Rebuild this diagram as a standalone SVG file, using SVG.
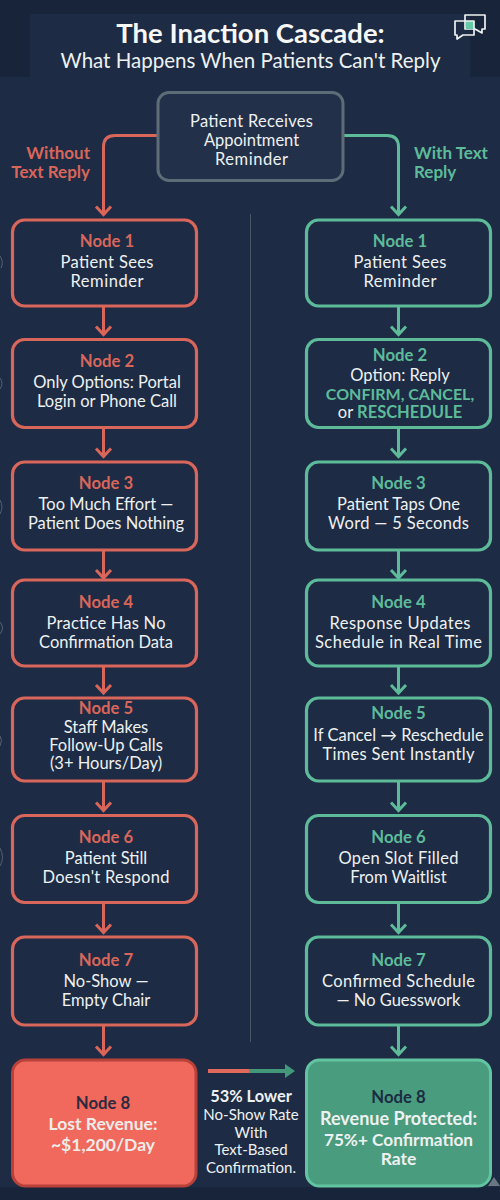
<svg xmlns="http://www.w3.org/2000/svg" width="500" height="1200" viewBox="0 0 500 1200">
<style>
text{font-family:"Lato","Open Sans","Liberation Sans",sans-serif;text-anchor:middle;fill:#eef1f1}
.box{fill:#1d2b44;stroke-width:3.200}
.r{stroke:#d9665a}.g{stroke:#5dbb9a}
.lr{fill:#d9665a;font-weight:700;font-size:16.700px}
.lg{fill:#5dbb9a;font-weight:700;font-size:16.700px}
.t{font-size:16.500px}
.c{fill:none;stroke-width:3}
.art{fill:none;stroke:#56616f;stroke-width:1}
</style>
<defs>
<marker id="hr" markerUnits="userSpaceOnUse" markerWidth="20" markerHeight="20" refX="10" refY="10" orient="auto"><path d="M2,2.500 L10,10 L2,17.500" fill="none" stroke="#d9665a" stroke-width="3"/></marker>
<marker id="hg" markerUnits="userSpaceOnUse" markerWidth="20" markerHeight="20" refX="10" refY="10" orient="auto"><path d="M2,2.500 L10,10 L2,17.500" fill="none" stroke="#5dbb9a" stroke-width="3"/></marker>
</defs>
<rect width="500" height="1200" fill="#1d2b44"/>
<g id="background-bands" fill="#18243a">
<rect width="500" height="14"/><rect y="14" width="30" height="63"/><rect x="470" y="14" width="30" height="63"/><rect y="1187" width="500" height="13"/>
</g>
<g id="edge-marks">
<path class="art" d="M0,256 Q4,262 1,268M0,378 Q4,383 0,389M0,500 Q4,507 0,514M0,622 Q5,628 0,634M0,736 Q3,740 0,746M0,848 Q5,858 0,866"/>
<path d="M488,1186 L494,1177 L500,1186Z" fill="#6d7783"/>
</g>
<g id="header">
<text x="250.500" y="43" font-size="27.500" font-weight="700" style="fill:#f7f8f8">The Inaction Cascade:</text>
<text x="250.500" y="68" font-size="20.500">What Happens When Patients Can't Reply</text>
</g>
<g id="icon" fill="none" stroke="#eef1f1" stroke-width="1.700" stroke-linejoin="round">
<path d="M465,15H485V29H482V33L475,29H465Z"/>
<rect x="466" y="21" width="8" height="8" fill="#66c9a8" stroke="none"/>
<path d="M455,21H474V35H463L457,39V35H455Z"/>
</g>
<g id="divider"><line x1="250.500" y1="214" x2="250.500" y2="1042" stroke="#4b5767" stroke-width="1"/></g>
<g id="connectors">
<path class="c r" marker-end="url(#hr)" d="M157,135.500H115Q103.500,135.500 103.500,147V214.500"/>
<path class="c g" marker-end="url(#hg)" d="M343,135.500H387Q398.500,135.500 398.500,147V214.500"/>
<path class="c r" marker-end="url(#hr)" d="M103.500,307V334.500"/>
<path class="c r" marker-end="url(#hr)" d="M103.500,428V456.500"/>
<path class="c r" marker-end="url(#hr)" d="M103.500,551V578"/>
<path class="c r" marker-end="url(#hr)" d="M103.500,667V693"/>
<path class="c r" marker-end="url(#hr)" d="M103.500,782V810.500"/>
<path class="c r" marker-end="url(#hr)" d="M103.500,904V932.500"/>
<path class="c r" marker-end="url(#hr)" d="M103.500,1026V1054.500"/>
<path class="c g" marker-end="url(#hg)" d="M398.500,307V334.500"/>
<path class="c g" marker-end="url(#hg)" d="M398.500,428V456.500"/>
<path class="c g" marker-end="url(#hg)" d="M398.500,551V578"/>
<path class="c g" marker-end="url(#hg)" d="M398.500,667V693"/>
<path class="c g" marker-end="url(#hg)" d="M398.500,782V810.500"/>
<path class="c g" marker-end="url(#hg)" d="M398.500,904V932.500"/>
<path class="c g" marker-end="url(#hg)" d="M398.500,1026V1054.500"/>
<line x1="208" y1="1071" x2="249" y2="1071" stroke="#e0695c" stroke-width="4"/>
<line x1="249" y1="1071" x2="286" y2="1071" stroke="#44987a" stroke-width="4"/>
<path d="M285,1064L295,1071L285,1078Z" fill="#44987a"/>
</g>
<g id="branch-labels" style="font-size:17px;font-weight:700">
<text x="90" y="159" style="text-anchor:end;fill:#d9665a">Without</text>
<text x="90" y="178" style="text-anchor:end;fill:#d9665a">Text Reply</text>
<text x="414" y="159" style="text-anchor:start;fill:#5dbb9a">With Text</text>
<text x="414" y="178" style="text-anchor:start;fill:#5dbb9a">Reply</text>
</g>
<g id="start"><rect x="158" y="92.500" width="185" height="88" rx="11" fill="#22304a" stroke="#5e6c77" stroke-width="3"/>
<text class="t" x="251.500" y="127" textLength="123">Patient Receives</text><text class="t" x="251.500" y="146">Appointment</text><text class="t" x="251.500" y="165" textLength="73">Reminder</text></g>

<g id="left-1"><rect class="box r" x="12.500" y="220" width="184" height="86" rx="12"/><text class="lr" x="107" y="247">Node 1</text><text class="t" x="107" y="268" textLength="93">Patient Sees</text><text class="t" x="107" y="287" textLength="73">Reminder</text></g>
<g id="left-2"><rect class="box r" x="12.500" y="339.500" width="184" height="88" rx="12"/><text class="lr" x="107" y="367">Node 2</text><text class="t" x="107" y="388">Only Options: Portal</text><text class="t" x="107" y="407">Login or Phone Call</text></g>
<g id="left-3"><rect class="box r" x="12.500" y="462" width="184" height="88" rx="12"/><text class="lr" x="106" y="489">Node 3</text><text class="t" x="106" y="510">Too Much Effort —</text><text class="t" x="106" y="529">Patient Does Nothing</text></g>
<g id="left-4"><rect class="box r" x="12.500" y="580" width="184" height="86" rx="12"/><text class="lr" x="106" y="608">Node 4</text><text class="t" x="106" y="629" textLength="119">Practice Has No</text><text class="t" x="106" y="648">Confirmation Data</text></g>
<g id="left-5"><rect class="box r" x="12.500" y="698" width="184" height="83" rx="12"/><text class="lr" x="106" y="714">Node 5</text><text class="t" x="106" y="732.500">Staff Makes</text><text class="t" x="106" y="750.500">Follow-Up Calls</text><text class="t" x="106" y="768.500">(3+ Hours/Day)</text></g>
<g id="left-6"><rect class="box r" x="12.500" y="815.500" width="184" height="87" rx="12"/><text class="lr" x="106" y="843">Node 6</text><text class="t" x="106" y="864">Patient Still</text><text class="t" x="106" y="883" textLength="127">Doesn't Respond</text></g>
<g id="left-7"><rect class="box r" x="12.500" y="937" width="184" height="88" rx="12"/><text class="lr" x="106" y="966">Node 7</text><text class="t" x="106" y="987">No-Show —</text><text class="t" x="106" y="1006">Empty Chair</text></g>
<g id="left-8"><rect x="12.500" y="1060" width="183.500" height="126" rx="13" fill="#f0695c" stroke="#b8423a" stroke-width="3"/><text x="103" y="1109" font-size="16.700" font-weight="700" style="fill:#2c2a40">Node 8</text><text x="103" y="1130" font-size="17.500" font-weight="700" style="fill:#f1ecea">Lost Revenue:</text><text x="103" y="1151" font-size="17.500" font-weight="700" style="fill:#f1ecea">~$1,200/Day</text></g>

<g id="right-1"><rect class="box g" x="306.500" y="220" width="184" height="86" rx="12"/><text class="lg" x="400" y="247">Node 1</text><text class="t" x="400" y="268" textLength="93">Patient Sees</text><text class="t" x="400" y="287" textLength="73">Reminder</text></g>
<g id="right-2"><rect class="box g" x="306.500" y="339.500" width="184" height="88" rx="12"/><text class="lg" x="400" y="360.500">Node 2</text><text class="t" x="400" y="381">Option: Reply</text><text x="400" y="399.500" font-size="16" font-weight="700" style="fill:#5dbb9a">CONFIRM, CANCEL,</text><text class="t" x="400" y="418">or <tspan font-size="16.500" font-weight="700" style="fill:#5dbb9a">RESCHEDULE</tspan></text></g>
<g id="right-3"><rect class="box g" x="306.500" y="462" width="184" height="88" rx="12"/><text class="lg" x="398.500" y="489">Node 3</text><text class="t" x="398.500" y="510">Patient Taps One</text><text class="t" x="398.500" y="529" textLength="141">Word — 5 Seconds</text></g>
<g id="right-4"><rect class="box g" x="306.500" y="580" width="184" height="86" rx="12"/><text class="lg" x="398.500" y="608">Node 4</text><text class="t" x="400" y="629" textLength="141">Response Updates</text><text class="t" x="398.500" y="648" textLength="167">Schedule in Real Time</text></g>
<g id="right-5"><rect class="box g" x="306.500" y="698" width="184" height="83" rx="12"/><text class="lg" x="398.500" y="719">Node 5</text><text class="t" x="398.500" y="741">If Cancel → Reschedule</text><text class="t" x="398.500" y="760" textLength="152">Times Sent Instantly</text></g>
<g id="right-6"><rect class="box g" x="306.500" y="815.500" width="184" height="87" rx="12"/><text class="lg" x="398.500" y="843">Node 6</text><text class="t" x="398.500" y="864" textLength="120">Open Slot Filled</text><text class="t" x="398.500" y="883">From Waitlist</text></g>
<g id="right-7"><rect class="box g" x="306.500" y="937" width="184" height="88" rx="12"/><text class="lg" x="398.500" y="966">Node 7</text><text class="t" x="398.500" y="987" textLength="153">Confirmed Schedule</text><text class="t" x="398.500" y="1006">— No Guesswork</text></g>
<g id="right-8"><rect x="306.500" y="1060" width="184" height="126" rx="13" fill="#4a9c7e" stroke="#63c4a2" stroke-width="3"/><text x="398.500" y="1103" font-size="16.700" font-weight="700" style="fill:#1a2c42">Node 8</text><text x="398.500" y="1125" font-size="18" font-weight="700">Revenue Protected:</text><text x="398.500" y="1146" font-size="17.200" font-weight="700">75%+ Confirmation</text><text x="398.500" y="1165" font-size="17.500" font-weight="700">Rate</text></g>

<g id="stat"><text x="251" y="1102" font-size="16.400" font-weight="700">53% Lower</text><text x="251" y="1120" font-size="15">No-Show Rate</text><text x="251" y="1137.500" font-size="15">With</text><text x="251" y="1155" font-size="15">Text-Based</text><text x="251" y="1172.500" font-size="15">Confirmation.</text></g>
</svg>
